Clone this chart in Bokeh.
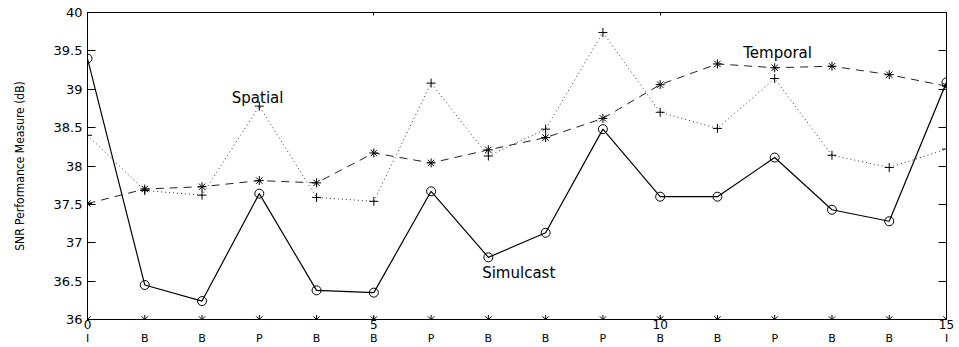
from bokeh.plotting import figure
from bokeh.models import Range1d, LinearAxis, FixedTicker
from bokeh.core.properties import value
from bokeh.embed import file_html
from bokeh.resources import INLINE

# ---- data ----
frame_index = list(range(16))
frame_types = ["I", "B", "B", "P", "B", "B", "P", "B", "B", "P", "B", "B", "P", "B", "B", "I"]
simulcast = [39.40, 36.45, 36.24, 37.64, 36.38, 36.35, 37.67, 36.81, 37.13, 38.48,
             37.60, 37.60, 38.11, 37.43, 37.28, 39.09]
spatial = [38.40, 37.68, 37.62, 38.78, 37.59, 37.54, 39.08, 38.13, 38.48, 39.74,
           38.70, 38.49, 39.14, 38.14, 37.98, 38.22]
temporal = [37.51, 37.70, 37.73, 37.81, 37.78, 38.17, 38.04, 38.21, 38.37, 38.62,
            39.06, 39.33, 39.28, 39.30, 39.19, 39.04]
series_names = ["Spatial", "Temporal", "Simulcast"]
name_x = [2.97, 12.05, 7.53]
name_y = [38.88, 39.47, 36.60]
x_ticks = [0, 5, 10, 15]
y_ticks = [36, 36.5, 37, 37.5, 38, 38.5, 39, 39.5, 40]
y_min, y_max = 36, 40

TICK_FONT = "DejaVu Sans"

p = figure(width=959, height=347, output_backend="svg", toolbar_location=None,
           x_range=Range1d(0, 15), y_range=Range1d(y_min, y_max),
           min_border_left=87, min_border_right=13, min_border_top=12, min_border_bottom=28,
           x_axis_location=None, y_axis_location=None)
p.grid.visible = False
p.outline_line_color = "black"
p.outline_line_width = 1
p.outline_line_alpha = 1

# left axis
ly = LinearAxis(ticker=FixedTicker(ticks=y_ticks), axis_label="SNR Performance Measure (dB)")
ly.major_tick_in = 8
ly.major_tick_out = 0
ly.minor_tick_in = 0
ly.minor_tick_out = 0
ly.major_label_standoff = 5
ly.major_label_text_font = TICK_FONT
ly.major_label_text_font_size = "13px"
ly.major_label_text_color = "black"
ly.axis_label_text_font = "'Liberation Sans Narrow', 'DejaVu Sans Condensed', sans-serif"
ly.axis_label_text_font_style = "normal"
ly.axis_label_text_font_size = "12px"
ly.axis_label_standoff = 24
ly.axis_label_text_color = "black"
ly.axis_line_color = "black"
ly.major_tick_line_color = "black"
p.add_layout(ly, "left")

# bottom axis (numbers)
bx = LinearAxis(ticker=FixedTicker(ticks=x_ticks))
bx.major_tick_in = 3
bx.major_tick_out = 0
bx.minor_tick_in = 0
bx.minor_tick_out = 0
bx.major_label_standoff = 0
bx.major_label_text_font = TICK_FONT
bx.major_label_text_font_size = "12px"
bx.major_label_text_color = "black"
p.add_layout(bx, "below")

# bottom axis (frame types)
fx = LinearAxis(ticker=FixedTicker(ticks=frame_index))
fx.major_label_overrides = {i: t for i, t in zip(frame_index, frame_types)}
fx.axis_line_color = None
fx.major_tick_in = 0
fx.major_tick_out = 0
fx.minor_tick_in = 0
fx.minor_tick_out = 0
fx.major_label_standoff = 0
fx.major_label_text_font = TICK_FONT
fx.major_label_text_font_size = "11px"
fx.major_label_text_color = "black"
p.add_layout(fx, "below")

# right axis (ticks only)
ry = LinearAxis(ticker=FixedTicker(ticks=y_ticks))
ry.major_tick_in = 8
ry.major_tick_out = 0
ry.minor_tick_in = 0
ry.minor_tick_out = 0
ry.major_label_standoff = 0
ry.major_label_text_font_size = "0px"
ry.major_label_overrides = {t: "" for t in y_ticks}
p.add_layout(ry, "right")

# top axis (ticks only)
tx = LinearAxis(ticker=FixedTicker(ticks=x_ticks))
tx.major_tick_in = 3
tx.major_tick_out = 0
tx.minor_tick_in = 0
tx.minor_tick_out = 0
tx.major_label_standoff = 0
tx.major_label_text_font_size = "0px"
tx.major_label_overrides = {t: "" for t in x_ticks}
p.add_layout(tx, "above")

# series
p.line(frame_index, spatial, line_color="#333333", line_width=1, line_dash="1 3")
p.scatter(frame_index, spatial, marker="cross", size=9, line_color="black", line_width=1)

p.line(frame_index, temporal, line_color="#222222", line_width=1, line_dash="8 6")
p.scatter(frame_index, temporal, marker="asterisk", size=9, line_color="black", line_width=1)

p.line(frame_index, simulcast, line_color="black", line_width=1.2)
p.scatter(frame_index, simulcast, marker="circle", size=9, line_color="black",
          fill_color=None, line_width=1)

# baseline markers
p.scatter(frame_index, [y_min] * len(frame_index), marker="asterisk", size=9,
          line_color="black", line_width=1)

# series names
p.text(name_x, name_y, text=series_names, text_font=value("DejaVu Sans"),
       text_font_size="15px", text_align="center", text_baseline="middle", text_color="black")

open("out.html", "w").write(file_html(p, INLINE))
